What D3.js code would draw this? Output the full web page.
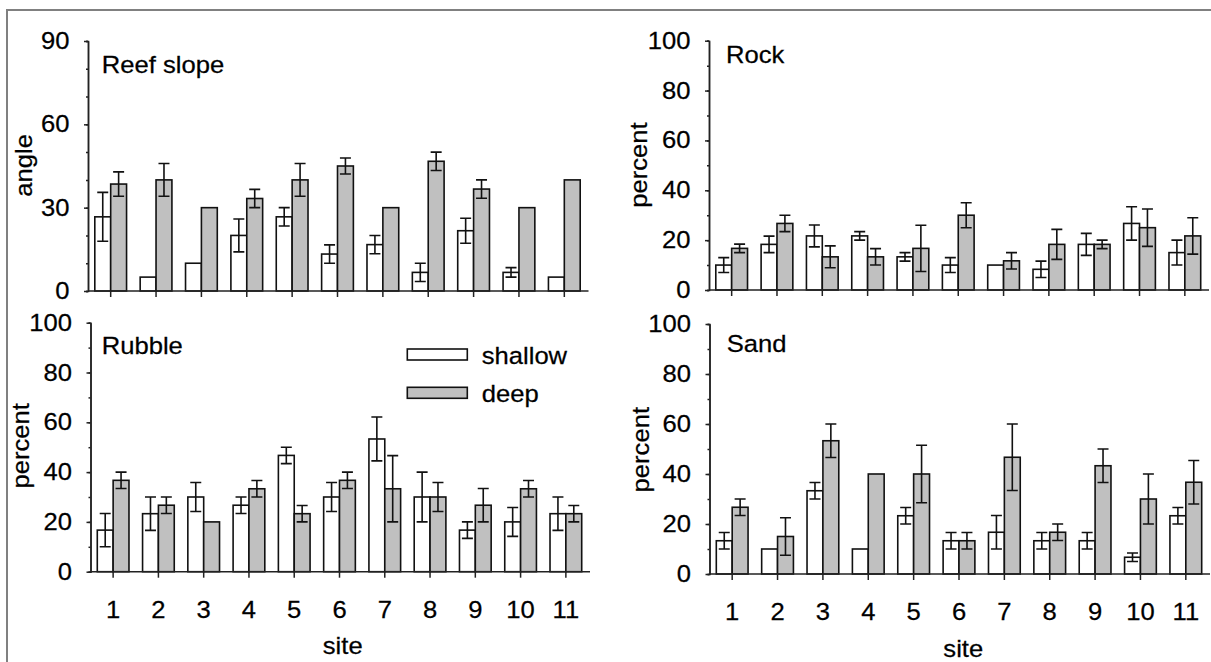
<!DOCTYPE html>
<html>
<head>
<meta charset="utf-8">
<script src="https://cdn.jsdelivr.net/npm/d3@7"></script>
<style>
  body { margin: 0; background: #fff; }
  svg { display: block; }
  text { font-family: "Liberation Sans", Arial, sans-serif; fill: #000; stroke: #000; stroke-width: 0.25px; }
</style>
</head>
<body>
<div id="chart"></div>
<script>
// data (means and error half-widths, 0 = no error bar)
const sites = ["1", "2", "3", "4", "5", "6", "7", "8", "9", "10", "11"];
const groups = ["shallow", "deep"];

const slopeShallow    = [26.7, 5, 10, 20, 26.7, 13.3, 16.7, 6.7, 21.7, 6.7, 5];
const slopeShallowErr = [8.8, 0, 0, 5.9, 3.3, 3.3, 3.3, 3.3, 4.5, 1.7, 0];
const slopeDeep       = [38.5, 40, 30, 33.3, 40, 45, 30, 46.7, 36.7, 30, 40];
const slopeDeepErr    = [4.4, 5.9, 0, 3.3, 5.9, 2.9, 0, 3.3, 3.3, 0, 0];

const rockShallow    = [10, 18.3, 21.7, 21.7, 13.3, 10, 10, 8.3, 18.3, 26.7, 15];
const rockShallowErr = [3, 3.3, 4.4, 1.7, 1.7, 3, 0, 3.3, 4.4, 6.7, 5];
const rockDeep       = [16.7, 26.7, 13.3, 13.3, 16.7, 30, 11.7, 18.3, 18.3, 25, 21.7];
const rockDeepErr    = [1.7, 3.3, 4.4, 3.3, 9.3, 5, 3.3, 6, 1.7, 7.5, 7.3];

const rubbleShallow    = [16.7, 23.3, 30, 26.7, 46.7, 30, 53.3, 30, 16.7, 20, 23.3];
const rubbleShallowErr = [6.7, 6.7, 5.8, 3.3, 3.3, 5.8, 8.8, 10, 3.3, 5.8, 6.7];
const rubbleDeep       = [36.7, 26.7, 20, 33.3, 23.3, 36.7, 33.3, 30, 26.7, 33.3, 23.3];
const rubbleDeepErr    = [3.3, 3.3, 0, 3.3, 3.3, 3.3, 13.3, 5.8, 6.7, 3.3, 3.3];

const sandShallow    = [13.3, 10, 33.3, 10, 23.3, 13.3, 16.7, 13.3, 13.3, 6.7, 23.3];
const sandShallowErr = [3.3, 0, 3.3, 0, 3.3, 3.3, 6.7, 3.3, 3.3, 1.7, 3.3];
const sandDeep       = [26.7, 15, 53.3, 40, 40, 13.3, 46.7, 16.7, 43.3, 30, 36.7];
const sandDeepErr    = [3.3, 7.5, 6.7, 0, 11.5, 3.3, 13.3, 3.3, 6.7, 10, 8.7];

const slopeTicks = [0, 30, 60, 90];
const percentTicks = [0, 20, 40, 60, 80, 100];

const fs = 23.5, sx = 1.09;   // font looks a bit wide, so stretch text horizontally
const fill = {shallow: "#ffffff", deep: "#c0c0c0"};

const panels = [
  {name: "Reef slope", yTitle: "angle", max: 90, ticks: slopeTicks, minor: 10,
   vals: [slopeShallow, slopeShallowErr, slopeDeep, slopeDeepErr],
   x0: 88, x1: 587, y0: 291, y1: 41, lab: [101.7, 72.7], tit: [32, 165.3], site: null},
  {name: "Rock", yTitle: "percent", max: 100, ticks: percentTicks, minor: 10,
   vals: [rockShallow, rockShallowErr, rockDeep, rockDeepErr],
   x0: 709, x1: 1207.5, y0: 290, y1: 40.7, lab: [726, 62.7], tit: [646.5, 165], site: null},
  {name: "Rubble", yTitle: "percent", max: 100, ticks: percentTicks, minor: 10,
   vals: [rubbleShallow, rubbleShallowErr, rubbleDeep, rubbleDeepErr],
   x0: 90.5, x1: 588.5, y0: 571.7, y1: 322.7, lab: [101.7, 354], tit: [28.5, 445.8], site: [342.7, 654]},
  {name: "Sand", yTitle: "percent", max: 100, ticks: percentTicks, minor: 10,
   vals: [sandShallow, sandShallowErr, sandDeep, sandDeepErr],
   x0: 709.5, x1: 1208.5, y0: 574, y1: 324, lab: [726.7, 351.5], tit: [648.5, 449.7], site: [963.3, 656.7]}
];

const svg = d3.select("#chart")
  .append("svg")
    .attr("width", 1211)
    .attr("height", 662);

// grey frame (top and left edge only are visible)
svg.append("path")
  .attr("d", "M7,662V10H1211")
  .attr("fill", "none")
  .attr("stroke", "#808080")
  .attr("stroke-width", 2);

panels.forEach(p => {
  const x = d3.scaleBand().domain(sites).range([p.x0, p.x1])
    .paddingInner(0.3).paddingOuter(0.15);
  const sub = d3.scaleBand().domain(groups).range([0, x.bandwidth()]);
  const y = d3.scaleLinear().domain([0, p.max]).range([p.y0, p.y1]);

  const rows = [];
  sites.forEach((s, i) => {
    rows.push({site: s, group: "shallow", value: p.vals[0][i], err: p.vals[1][i]});
    rows.push({site: s, group: "deep", value: p.vals[2][i], err: p.vals[3][i]});
  });

  const g = svg.append("g");

  g.selectAll("rect.bar")
    .data(rows)
    .join("rect")
      .attr("class", "bar")
      .attr("x", d => x(d.site) + sub(d.group))
      .attr("y", d => y(d.value))
      .attr("width", sub.bandwidth())
      .attr("height", d => y(0) - y(d.value))
      .attr("fill", d => fill[d.group])
      .attr("stroke", "#111")
      .attr("stroke-width", 1.6);

  const cap = 5.5;
  g.selectAll("path.err")
    .data(rows.filter(d => d.err > 0))
    .join("path")
      .attr("class", "err")
      .attr("d", d => {
        const cx = x(d.site) + sub(d.group) + sub.bandwidth() / 2;
        const hi = y(d.value + d.err), lo = y(d.value - d.err);
        return `M${cx - cap},${hi}H${cx + cap}M${cx},${hi}V${lo}M${cx - cap},${lo}H${cx + cap}`;
      })
      .attr("fill", "none")
      .attr("stroke", "#111")
      .attr("stroke-width", 1.6);

  // y axis: minor ticks then major ticks with labels
  g.append("g")
    .attr("transform", `translate(${p.x0},0)`)
    .call(d3.axisLeft(y).tickValues(d3.range(0, p.max + 1, p.minor)).tickSize(2).tickFormat(""))
    .call(a => a.selectAll("path,line").attr("stroke", "#222").attr("stroke-width", 1.5));

  g.append("g")
    .attr("transform", `translate(${p.x0},0)`)
    .call(d3.axisLeft(y).tickValues(p.ticks).tickSize(4).tickSizeOuter(0))
    .call(a => a.selectAll("path,line").attr("stroke", "#222").attr("stroke-width", 1.5))
    .call(a => a.selectAll("text")
      .attr("x", -18.5 / sx)
      .attr("transform", `scale(${sx},1)`)
      .style("font-size", fs + "px")
      .style("font-family", "'Liberation Sans', Arial, sans-serif"));

  // x axis
  const xAxis = d3.axisBottom(x).tickSize(6).tickSizeOuter(0);
  if (!p.site) xAxis.tickFormat(() => "");
  g.append("g")
    .attr("transform", `translate(0,${p.y0})`)
    .call(xAxis)
    .call(a => a.select(".domain").attr("d", `M${p.x0},0H${p.x1 + 1.5}`))
    .call(a => a.selectAll("path,line").attr("stroke", "#222").attr("stroke-width", 1.5))
    .call(a => a.selectAll("text")
      .attr("y", 29.5)
      .attr("transform", `scale(${sx},1)`)
      .style("font-size", fs + "px")
      .style("font-family", "'Liberation Sans', Arial, sans-serif"));

  // panel label
  g.append("text")
    .attr("transform", `translate(${p.lab[0]},${p.lab[1]}) scale(${sx},1)`)
    .style("font-size", fs + "px")
    .text(p.name);

  // y title
  g.append("text")
    .attr("transform", `translate(${p.tit[0]},${p.tit[1]}) rotate(-90) scale(${sx},1)`)
    .attr("text-anchor", "middle")
    .style("font-size", fs + "px")
    .text(p.yTitle);

  // x title
  if (p.site) {
    g.append("text")
      .attr("transform", `translate(${p.site[0]},${p.site[1]}) scale(${sx},1)`)
      .attr("text-anchor", "middle")
      .style("font-size", fs + "px")
      .text("site");
  }
});

// legend inside the Rubble panel
const legend = svg.append("g").attr("transform", "translate(407.3,349)");
legend.selectAll("rect")
  .data(groups)
  .join("rect")
    .attr("x", 0)
    .attr("y", (d, i) => i * 38.3)
    .attr("width", 60)
    .attr("height", 11)
    .attr("fill", d => fill[d])
    .attr("stroke", "#111")
    .attr("stroke-width", 1.6);
legend.selectAll("text")
  .data(groups)
  .join("text")
    .attr("transform", (d, i) => `translate(74.4,${15 + i * 37.7}) scale(${sx},1)`)
    .style("font-size", fs + "px")
    .text(d => d);
</script>
</body>
</html>
